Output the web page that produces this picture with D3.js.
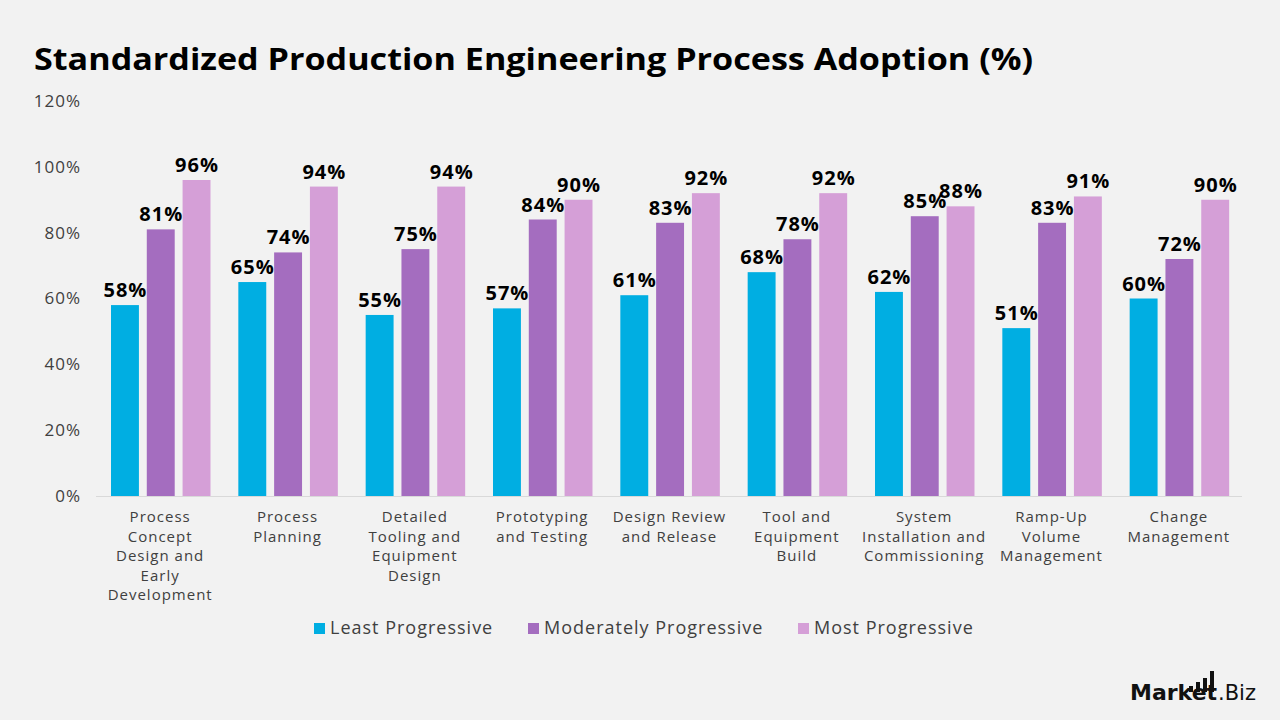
<!DOCTYPE html>
<html><head><meta charset="utf-8">
<script src="https://cdn.jsdelivr.net/npm/d3@7"></script>
<style>
body{margin:0;background:#f2f2f2;}
svg{display:block;font-family:"Open Sans","DejaVu Sans",sans-serif;}
</style></head>
<body><svg id="c" width="1280" height="720"></svg>
<script>
const categories = [
  ["Process","Concept","Design and","Early","Development"],
  ["Process","Planning"],
  ["Detailed","Tooling and","Equipment","Design"],
  ["Prototyping","and Testing"],
  ["Design Review","and Release"],
  ["Tool and","Equipment","Build"],
  ["System","Installation and","Commissioning"],
  ["Ramp-Up","Volume","Management"],
  ["Change","Management"]
];
const seriesNames = ["Least Progressive","Moderately Progressive","Most Progressive"];
const leastProgressive = [58,65,55,57,61,68,62,51,60];
const moderatelyProgressive = [81,74,75,84,83,78,85,83,72];
const mostProgressive = [96,94,94,90,92,92,88,91,90];
const yTicks = [0,20,40,60,80,100,120];
const colors = ["#00AEE2","#A46DBF","#D59FD7"];

const svg = d3.select("#c");
svg.append("rect").attr("width",1280).attr("height",720).attr("fill","#f2f2f2");

svg.append("text").attr("x",34).attr("y",70).text("Standardized Production Engineering Process Adoption (%)")
  .attr("font-size",31).attr("font-weight",700).attr("fill","#000")
  .attr("textLength",999).attr("lengthAdjust","spacingAndGlyphs");

const x0 = d3.scaleBand().domain(d3.range(categories.length)).range([96,1242]).paddingInner(0).paddingOuter(0);
const x1 = d3.scaleBand().domain([0,1,2]).range([15,114.5]).paddingInner(0.22);
const y = d3.scaleLinear().domain([0,120]).range([496,101]);

// y tick labels
const yAxis = d3.axisLeft(y).tickValues(yTicks).tickFormat(d=>d+"%").tickSize(0).tickPadding(0);
const ya = svg.append("g").attr("transform","translate(80,0)").call(yAxis);
ya.select(".domain").remove();
ya.selectAll("text").attr("font-size",17).attr("fill","#404040").attr("font-family","'Open Sans',sans-serif")
  .attr("letter-spacing",1).attr("dx",1);

// baseline
svg.append("line").attr("x1",96).attr("x2",1242).attr("y1",496.5).attr("y2",496.5).attr("stroke","#d9d9d9").attr("stroke-width",1);

const series = [leastProgressive, moderatelyProgressive, mostProgressive];
const g = svg.append("g");
categories.forEach((c,i)=>{
  const gg = g.append("g").attr("transform",`translate(${x0(i)},0)`);
  series.forEach((s,j)=>{
    gg.append("rect").attr("x",x1(j)).attr("width",x1.bandwidth())
      .attr("y",y(s[i])).attr("height",y(0)-y(s[i])).attr("fill",colors[j]);
  });
  series.forEach((s,j)=>{
    gg.append("text").attr("x",x1(j)+x1.bandwidth()/2+0.5).attr("y",y(s[i])-8)
      .attr("text-anchor","middle").attr("font-size",20).attr("font-weight",700).attr("fill","#000")
      .attr("letter-spacing",1)
      .text(s[i]+"%");
  });
  const t = gg.append("text").attr("text-anchor","middle").attr("font-size",15).attr("fill","#404040")
    .attr("letter-spacing",1);
  c.forEach((line,k)=>{
    t.append("tspan").attr("x",x0.bandwidth()/2+0.5).attr("y",522+k*19.5).text(line);
  });
});

// legend
const legX = [314,528,798];
seriesNames.forEach((n,j)=>{
  svg.append("rect").attr("x",legX[j]).attr("y",623).attr("width",11).attr("height",11).attr("fill",colors[j]);
  svg.append("text").attr("x",legX[j]+16).attr("y",634).attr("font-size",18).attr("fill","#404040")
    .attr("letter-spacing",1).text(n);
});

// logo
const lg = svg.append("g");
lg.append("text").attr("x",1130).attr("y",700).attr("font-size",22).attr("font-weight",700).attr("fill","#111")
  .attr("font-family","'DejaVu Sans',sans-serif").text("Market");
lg.append("text").attr("x",1218).attr("y",700).attr("font-size",21).attr("fill","#111")
  .attr("font-family","'DejaVu Sans',sans-serif").text(".Biz");
[[1189,686,4,6],[1196,682,4,10],[1203,678,4,14],[1210,671,4,21]].forEach(b=>{
  lg.append("rect").attr("x",b[0]).attr("y",b[1]).attr("width",b[2]).attr("height",b[3]).attr("fill","#111");
});
</script></body></html>
